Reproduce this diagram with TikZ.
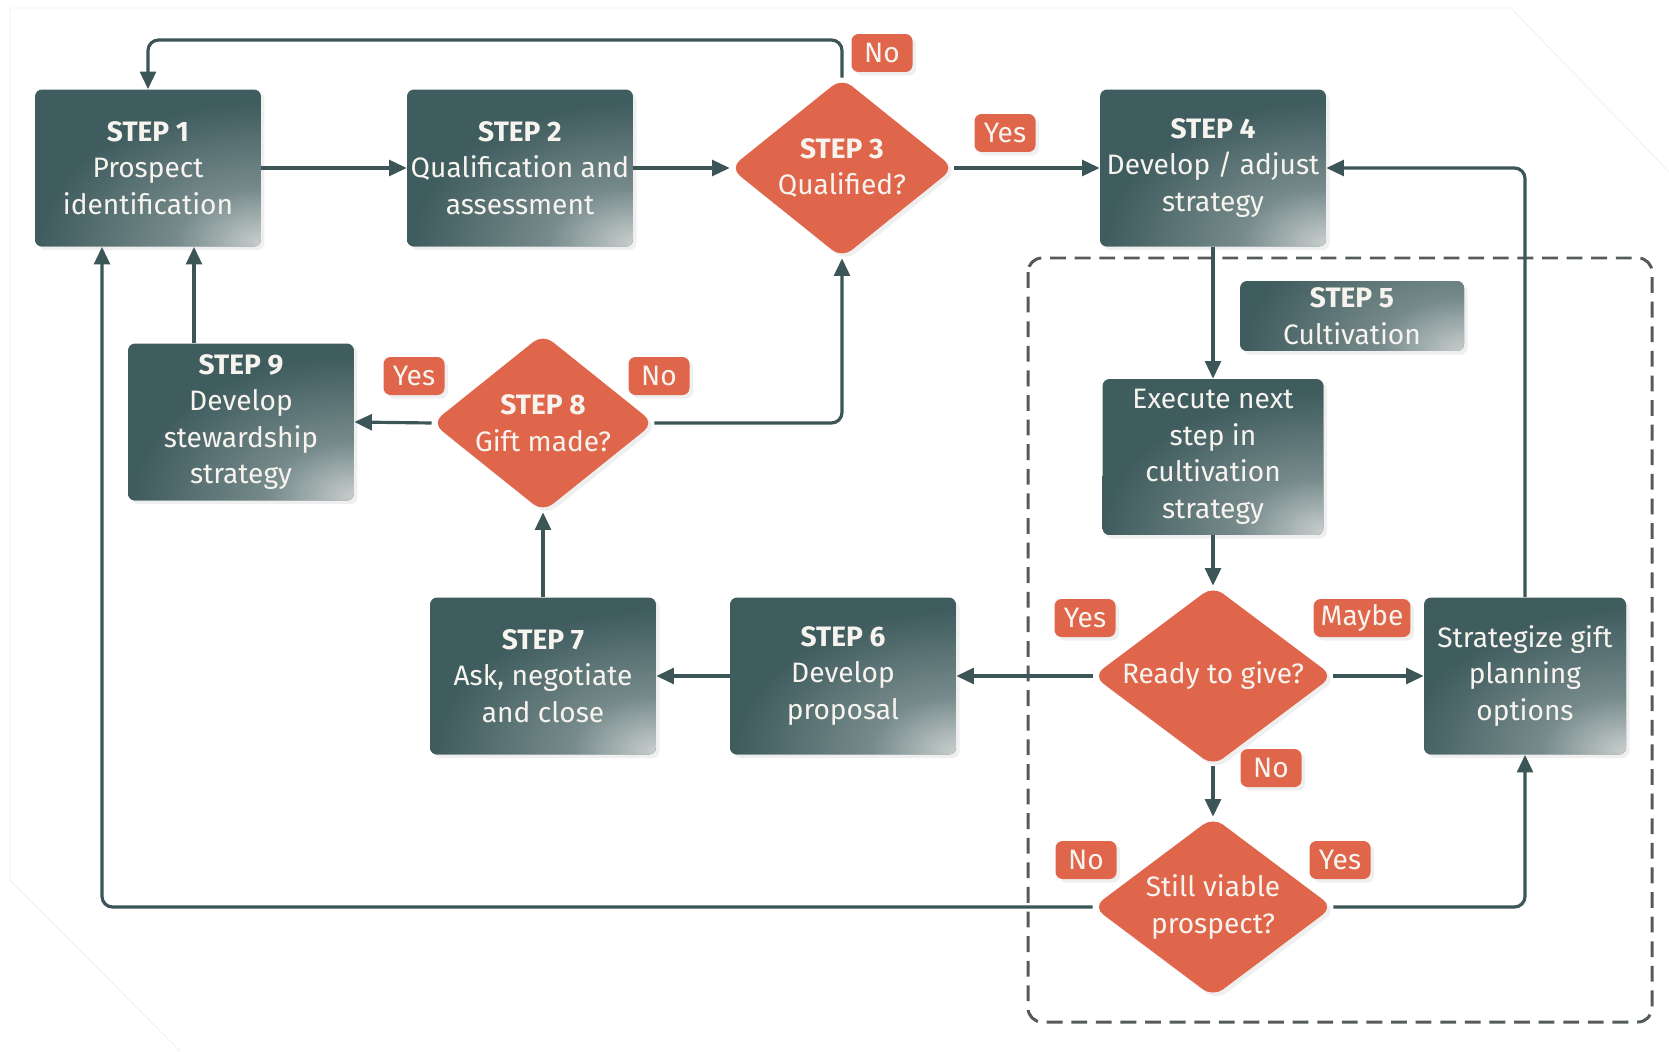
\documentclass[tikz,border=0pt]{standalone}
\usepackage{fontspec}
\setmainfont{Fira Sans}
\usetikzlibrary{arrows.meta,shapes.geometric,shadows,calc}
\definecolor{tealc}{HTML}{3F5C5E}
\definecolor{glowc}{HTML}{C8CECD}
\definecolor{orc}{HTML}{E0664B}
\definecolor{linec}{HTML}{3C5557}
\definecolor{dashc}{HTML}{555A5A}
\definecolor{txtc}{HTML}{F7F4EF}
\pgfdeclareradialshading{cornerglow}{\pgfpointorigin}{%
  color(0bp)=(glowc); color(9bp)=(tealc!60!glowc); color(23bp)=(tealc); color(50bp)=(tealc)}
\begin{document}
\begin{tikzpicture}[x=0.02cm,y=-0.02cm,
  txt/.style={text=txtc, align=center, font=\fontsize{16}{20.8}\selectfont},
  shad/.style={drop shadow={shadow xshift=2pt,shadow yshift=-2pt,opacity=0.13}},
  box/.style={txt, shad, rectangle, rounded corners=4pt, fill=tealc,
    minimum width=4.52cm, minimum height=3.14cm, inner sep=0pt,
    path picture={\shade[shading=cornerglow]
      (path picture bounding box.south east) ellipse (4.8cm and 3.0cm);}},
  dia/.style={txt, shad, diamond, rounded corners=7pt, fill=orc, inner sep=0pt, aspect=1.3},
  lab/.style={txt, shad, rectangle, rounded corners=4pt, fill=orc,
    minimum height=0.76cm, minimum width=1.22cm, inner xsep=4pt, inner ysep=0pt},
  conn/.style={draw=linec, line width=1.8pt, rounded corners=6pt,
    -{Triangle[width=9pt,length=10pt]}},
]
\useasboundingbox (0,0) rectangle (1669,1051);
% faint page outline
\draw[gray!12, line width=0.5pt] (10,8) -- (1511,8) -- (1669,172);
\draw[gray!12, line width=0.5pt] (10,8) -- (10,880) -- (180,1051);

% dashed cultivation frame
\draw[dashc, line width=1.7pt, dash pattern=on 9pt off 5pt, rounded corners=8pt]
  (1028,258) rectangle (1652,1022);

% nodes
\node[box] (s1) at (148,168) {\textbf{STEP 1}\\Prospect\\identification};
\node[box] (s2) at (520,168) {\textbf{STEP 2}\\Qualification and\\assessment};
\node[dia, minimum width=4.48cm, minimum height=3.6cm] (s3) at (842,168) {\textbf{STEP 3}\\Qualified?};
\node[box] (s4) at (1213,168) {\textbf{STEP 4}\\Develop / adjust\\strategy};
\node[box, minimum width=4.48cm, minimum height=1.4cm] (s5) at (1352,316) {\textbf{STEP 5}\\Cultivation};
\node[box, minimum width=4.42cm, minimum height=3.12cm] (exe) at (1213,457) {Execute next\\step in\\cultivation\\strategy};
\node[dia, minimum width=4.8cm, minimum height=3.6cm] (rtg) at (1213,676) {Ready to give?};
\node[box, minimum width=4.04cm] (strat) at (1525,676) {Strategize gift\\planning\\options};
\node[dia, minimum width=4.8cm, minimum height=3.6cm] (svp) at (1213,907) {Still viable\\prospect?};
\node[box] (s6) at (843,676) {\textbf{STEP 6}\\Develop\\proposal};
\node[box] (s7) at (543,676) {\textbf{STEP 7}\\Ask, negotiate\\and close};
\node[dia, minimum width=4.44cm, minimum height=3.56cm] (s8) at (543,423) {\textbf{STEP 8}\\Gift made?};
\node[box] (s9) at (241,422) {\textbf{STEP 9}\\Develop\\stewardship\\strategy};

% labels
\node[lab] (l1) at (882,53) {No};
\node[lab] (l2) at (1005,133) {Yes};
\node[lab] (l3) at (414,376) {Yes};
\node[lab] (l4) at (659,376) {No};
\node[lab] (l5) at (1085,618) {Yes};
\node[lab] (l6) at (1362,618) {Maybe};
\node[lab] (l7) at (1271,768) {No};
\node[lab] (l8) at (1086,860) {No};
\node[lab] (l9) at (1340,860) {Yes};

% helper coordinates
\coordinate (top) at (0,40);
\coordinate (inL) at ($(s1.south)+(-46,0)$);
\coordinate (inR) at ($(s1.south)+(46,0)$);

% connectors
\draw[conn] (s3.north) -- (s3.north |- top) -- (s1.north |- top) -- (s1.north);
\draw[conn] (s1.east) -- (s2.west);
\draw[conn] (s2.east) -- (s3.west);
\draw[conn] (s3.east) -- (s4.west);
\draw[conn] (s4.south) -- (exe.north);
\draw[conn] (exe.south) -- (rtg.north);
\draw[conn] (rtg.west) -- (s6.east);
\draw[conn] (rtg.east) -- (strat.west);
\draw[conn] (rtg.south) -- (svp.north);
\draw[conn] (strat.north) |- (s4.east);
\draw[conn] (svp.east) -| (strat.south);
\draw[conn] (svp.west) -| (inL);
\draw[conn] (s9.north -| inR) -- (inR);
\draw[conn] (s8.west) -- (s9.east);
\draw[conn] (s8.east) -| (s3.south);
\draw[conn] (s7.north) -- (s8.south);
\draw[conn] (s6.west) -- (s7.east);
\end{tikzpicture}
\end{document}
